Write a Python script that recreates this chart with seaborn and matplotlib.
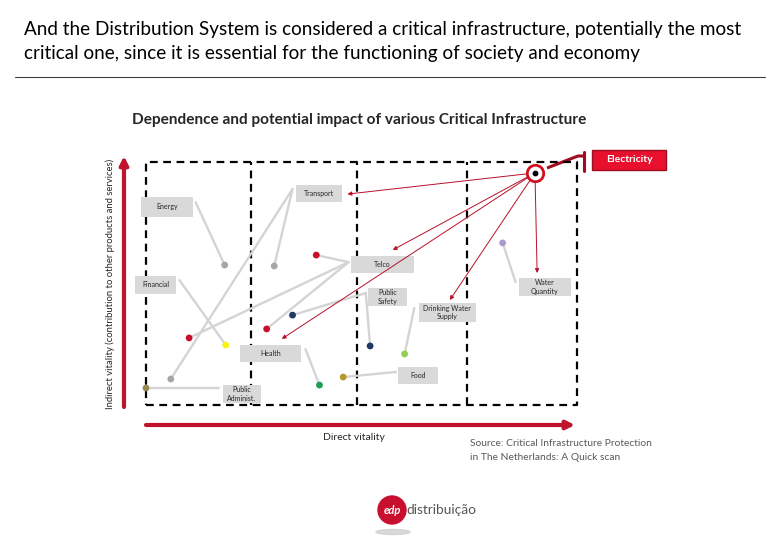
import pandas as pd
import matplotlib
matplotlib.use("Agg")
import matplotlib.pyplot as plt
import seaborn as sns
from matplotlib.patches import Rectangle, Circle, Ellipse

# --- data (direct vitality 0-4, indirect vitality 0-10) ---
sectors = ["Energy", "Transport", "Transport", "Telco", "Telco", "Telco",
           "Public Safety", "Public Safety", "Financial", "Health", "Food",
           "Drinking Water Supply", "Public Administ.", "Water Quantity"]
direct = [0.73, 1.19, 0.23, 1.58, 0.40, 1.12, 1.36, 2.08, 0.74, 1.61, 1.83, 2.40, 0.00, 3.31]
indirect = [5.76, 5.72, 1.07, 6.17, 2.76, 3.13, 3.70, 2.43, 2.47, 0.82, 1.15, 2.10, 0.70, 6.67]
dot_kind = ["grey", "grey", "grey", "red", "red", "red", "navy", "navy",
            "yellow", "green", "gold", "lightgreen", "khaki", "purple"]

elec_direct = 3.61
elec_indirect = 9.55

# sectors that depend on electricity (arrow tips)
dependents = ["Transport", "Telco", "Health", "Drinking Water Supply", "Water Quantity"]
dep_x = [1.87, 2.29, 1.26, 2.82, 3.63]
dep_y = [8.68, 6.38, 2.72, 4.32, 5.43]

column_dividers = [0.974, 1.958, 2.979]

# label boxes: text, (x0, x1, y0, y1), connector anchor
label_text = {
    "Energy": "Energy", "Transport": "Transport", "Telco": "Telco",
    "Financial": "Financial", "Public Safety": "Public\nSafety",
    "Drinking Water Supply": "Drinking Water\nSupply",
    "Water Quantity": "Water\nQuantity", "Health": "Health", "Food": "Food",
    "Public Administ.": "Public\nAdminist.",
}
label_box = {
    "Energy": (-0.05, 0.44, 7.74, 8.56),
    "Transport": (1.39, 1.82, 8.35, 9.05),
    "Telco": (1.90, 2.49, 5.43, 6.13),
    "Financial": (-0.10, 0.28, 4.57, 5.31),
    "Public Safety": (2.06, 2.42, 4.07, 4.81),
    "Drinking Water Supply": (2.53, 3.06, 3.42, 4.20),
    "Water Quantity": (3.46, 3.94, 4.49, 5.23),
    "Health": (0.87, 1.44, 1.77, 2.47),
    "Food": (2.34, 2.71, 0.86, 1.56),
    "Public Administ.": (0.71, 1.07, 0.08, 0.82),
}
label_anchor = {
    "Energy": (0.46, 8.35), "Transport": (1.36, 8.89), "Telco": (1.88, 5.88),
    "Financial": (0.31, 5.14), "Public Safety": (2.04, 4.61),
    "Drinking Water Supply": (2.49, 3.99), "Water Quantity": (3.43, 5.06),
    "Health": (1.48, 2.30), "Food": (2.32, 1.36), "Public Administ.": (0.68, 0.70),
}

palette = {"grey": "#a6a6a6", "red": "#c8102e", "navy": "#1f3864",
           "yellow": "#f7f21a", "green": "#1f9e58", "gold": "#b8962e",
           "lightgreen": "#92d050", "khaki": "#948a54", "purple": "#a99bd0"}

RED = "#c0142c"

sns.set_style("white")
plt.rcParams['font.family'] = ['Lato', 'DejaVu Sans']

fig = plt.figure(figsize=(7.8, 5.4), dpi=100)

# background layer in pixel units for page decorations
bg = fig.add_axes([0, 0, 1, 1])
bg.set_xlim(0, 780)
bg.set_ylim(540, 0)
bg.axis("off")

bg.text(24, 30, "And the Distribution System is considered a critical infrastructure, potentially the most",
        fontsize=13.6, va="center", ha="left", color="black")
bg.text(24, 54, "critical one, since it is essential for the functioning of society and economy",
        fontsize=13.6, va="center", ha="left", color="black")
bg.plot([15, 765], [77, 77], color="#404040", lw=0.8)

bg.text(359, 120, "Dependence and potential impact of various Critical Infrastructure",
        fontsize=11.1, fontweight="bold", ha="center", va="center")

# axis arrows
bg.annotate("", xy=(124, 156), xytext=(124, 407),
            arrowprops=dict(arrowstyle="-|>", color=RED, lw=3, mutation_scale=12,
                            shrinkA=0, shrinkB=0))
bg.annotate("", xy=(575, 425), xytext=(146, 425),
            arrowprops=dict(arrowstyle="-|>", color=RED, lw=3, mutation_scale=12,
                            shrinkA=0, shrinkB=0))
bg.text(110, 284, "Indirect vitality (contribution to other products and services)",
        rotation=90, fontsize=6.8, ha="center", va="center")
bg.text(323, 437, "Direct vitality", fontsize=7.5, ha="left", va="center")

bg.text(470, 444, "Source: Critical Infrastructure Protection", fontsize=7.4,
        color="#595959", va="center")
bg.text(470, 457, "in The Netherlands: A Quick scan", fontsize=7.4,
        color="#595959", va="center")

# electricity label
bg.add_patch(Rectangle((592, 150), 74, 20, facecolor="#e8112d", edgecolor="#a00c20", lw=1))
bg.text(629, 160, "Electricity", color="white", fontsize=7.5, fontweight="bold",
        ha="center", va="center")
bg.plot([547, 578, 584], [168, 156, 156], color="#a00c20", lw=2.2, solid_capstyle="butt")
bg.plot([584, 584], [152, 171], color="#a00c20", lw=2.2)

# logo
bg.add_patch(Ellipse((393, 532), 34, 5, color="#d0d0d0", alpha=0.8))
bg.add_patch(Circle((392, 510), 14, color="#c8102e"))
bg.text(392, 510, "edp", color="white", fontsize=8, fontweight="bold",
        fontstyle="italic", ha="center", va="center")
bg.text(406, 510, "distribuição", color="#555555", fontsize=9.8, ha="left", va="center")

# main diagram
ax = fig.add_axes([146 / 780, 1 - 405 / 540, 431 / 780, 243 / 540])
ax.set_xlim(0, 4)
ax.set_ylim(0, 10)
ax.axis("off")

ax.plot([0, 4, 4, 0, 0], [0, 0, 10, 10, 0], color="black", lw=1.6,
        dashes=(3.5, 2.5), clip_on=False, zorder=1)
for xd in column_dividers:
    ax.plot([xd, xd], [0, 10], color="black", lw=1.6, dashes=(3.5, 2.5), zorder=1)

# grey connectors from label to its dots
for s, x, y in zip(sectors, direct, indirect):
    axp, ayp = label_anchor[s]
    ax.plot([axp, x], [ayp, y], color="#d4d4d4", lw=1.7, zorder=2, clip_on=False)

for name, (x0, x1, y0, y1) in label_box.items():
    ax.add_patch(Rectangle((x0, y0), x1 - x0, y1 - y0, facecolor="#d9d9d9",
                           edgecolor="none", zorder=3, clip_on=False))
    ax.text((x0 + x1) / 2, (y0 + y1) / 2, label_text[name], fontsize=5,
            ha="center", va="center", zorder=4, linespacing=1.3)

df = pd.DataFrame({"direct": direct, "indirect": indirect, "kind": dot_kind})
sns.scatterplot(data=df, x="direct", y="indirect", hue="kind", palette=palette,
                s=24, edgecolor="none", legend=False, ax=ax, zorder=5, clip_on=False)
ax.set_xlim(0, 4)
ax.set_ylim(0, 10)

# red dependency arrows
for x, y in zip(dep_x, dep_y):
    ax.annotate("", xy=(x, y), xytext=(elec_direct, elec_indirect),
                arrowprops=dict(arrowstyle="-|>", color="#b8102a", lw=0.7,
                                mutation_scale=6, shrinkA=4, shrinkB=0),
                zorder=6)

ax.scatter([elec_direct], [elec_indirect], s=140, facecolor="white",
           edgecolor="#d01020", lw=2, zorder=7, clip_on=False)
ax.scatter([elec_direct], [elec_indirect], s=10, color="black", zorder=8, clip_on=False)

fig.savefig("out.png", dpi=100)
